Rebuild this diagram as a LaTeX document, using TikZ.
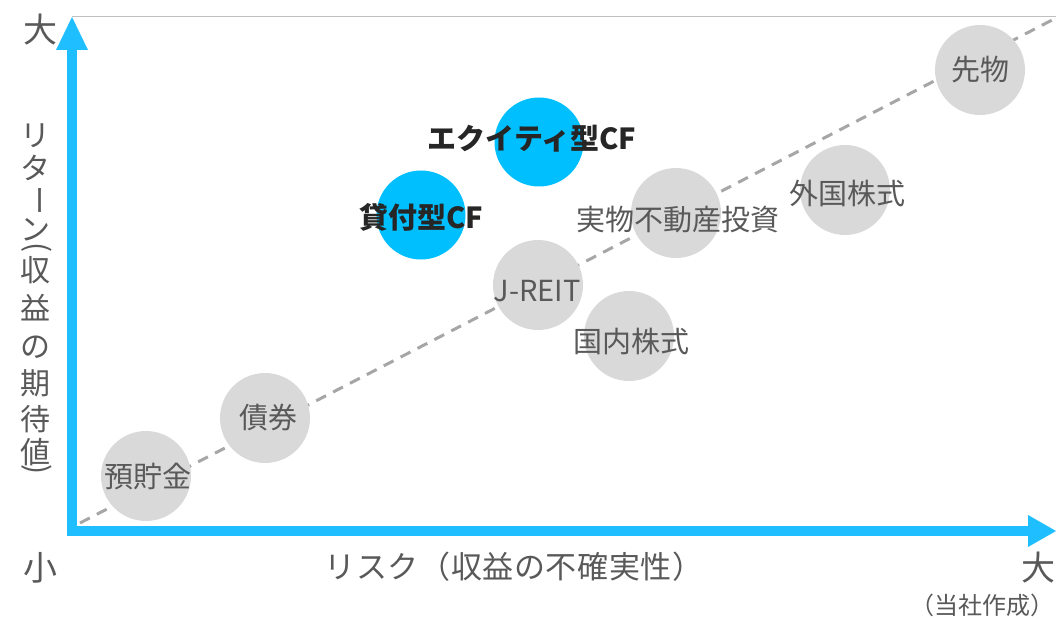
\documentclass[tikz,border=0pt]{standalone}
\usepackage{fontspec}
\usepackage{graphicx}
\setmainfont{Noto Sans CJK JP}
\usetikzlibrary{calc}
\definecolor{axisblue}{HTML}{1FBFFF}
\definecolor{cfblue}{HTML}{00BFFF}
\definecolor{circgrey}{HTML}{D9D9D9}
\definecolor{txtgrey}{HTML}{595959}
\definecolor{dashgrey}{HTML}{A6A6A6}
\definecolor{topgrey}{HTML}{BFBFBF}
\definecolor{cftext}{HTML}{262626}
\tikzset{
  gcirc/.style={circle, fill=circgrey, minimum size=90pt, inner sep=0pt},
  bcirc/.style={circle, fill=cfblue, minimum size=89pt, inner sep=0pt},
  lbl/.style={text=txtgrey, inner sep=0pt, font=\fontsize{29}{31}\selectfont},
  cflbl/.style={text=cftext, inner sep=0pt, font=\fontsize{29}{31}\selectfont\bfseries},
  axlbl/.style={text=txtgrey, inner sep=0pt, font=\fontsize{30}{32}\selectfont},
  xtlbl/.style={text=txtgrey, inner sep=0pt, font=\fontsize{31}{33}\selectfont\addfontfeatures{LetterSpace=2}},
  endlbl/.style={text=txtgrey, inner sep=0pt, font=\fontsize{34}{36}\selectfont},
  notelbl/.style={text=txtgrey, inner sep=0pt, font=\fontsize{24}{26}\selectfont},
  axisline/.style={draw=axisblue, line width=10pt, line join=miter},
  trend/.style={draw=dashgrey, line width=3pt, dash pattern=on 11pt off 8pt},
}
\begin{document}
\begin{tikzpicture}[x=1pt,y=-1pt]
\useasboundingbox (0,0) rectangle (1056,620);
% frame top line
\coordinate (tl) at (72,17);
\coordinate (tr) at (1056,17);
\draw[topgrey, line width=1pt] (tl) -- (tr);
% trend line
\coordinate (ts) at (80,523);
\coordinate (te) at (1056,18);
\draw[trend] (ts) -- (te);
% axes
\coordinate (ybase) at (72,48);
\coordinate (origin) at (72,531);
\coordinate (xbase) at (1028,531);
\draw[axisline] (ybase) -- (origin) -- (xbase);
\coordinate (ytip) at (72,17);
\coordinate (xtip) at (1056,531);
\fill[axisblue] (ytip) -- ($(ytip)+(-16,33)$) -- ($(ytip)+(16,33)$) -- cycle;
\fill[axisblue] (xtip) -- ($(xtip)+(-28,-16)$) -- ($(xtip)+(-28,16)$) -- cycle;
% circles
\node[gcirc] (dep) at (146,476) {};
\node[gcirc] (bond) at (265,418) {};
\node[gcirc] (fut) at (980,70) {};
\node[gcirc] (fstock) at (845,190) {};
\node[gcirc] (real) at (676,213) {};
\node[gcirc] (reit) at (538,285) {};
\node[gcirc] (dstock) at (629,336) {};
\node[bcirc] (ecf) at (539,142) {};
\node[bcirc] (lcf) at (421,215) {};
% labels
\node[lbl] (tdep) at ($(dep)+(2,1)$) {預貯金};
\node[lbl] (tbond) at ($(bond)+(3,0)$) {債券};
\node[lbl] (tfut) at (fut) {先物};
\node[lbl] (tfstock) at ($(fstock)+(2,3)$) {外国株式};
\node[lbl] (treal) at ($(real)+(2,7)$) {実物不動産投資};
\node[lbl] (treit) at ($(reit)+(-1,6)$) {J-REIT};
\node[lbl] (tdstock) at ($(dstock)+(2,6)$) {国内株式};
\node[cflbl] (tecf) at ($(ecf)+(-7,-3)$) {エクイティ型CF};
\node[cflbl] (tlcf) at ($(lcf)+(0,2)$) {貸付型CF};
% axis end labels
\node[endlbl] (ybig) at (40,30) {大};
\node[endlbl] (small) at (40,568) {小};
\node[endlbl] (xbig) at (1038,568) {大};
\node[notelbl] (note) at (982,605) {（当社作成）};
% x axis title
\node[xtlbl] (xtitle) at (514,567) {リスク（収益の不確実性）};
% y axis title (vertical)
\node[axlbl] (v1) at (35,136) {リ};
\node[axlbl] (v2) at (35,168) {タ};
\node[axlbl] (v3) at (35,201) {\rotatebox{-90}{ー}};
\node[axlbl] (v4) at (35,230) {ン};
\node[axlbl] (v5) at (37,248) {\rotatebox{-90}{(}};
\node[axlbl] (v6) at (35,270) {収};
\node[axlbl] (v7) at (35,308) {益};
\node[axlbl] (v8) at (35,347) {の};
\node[axlbl] (v9) at (35,383) {期};
\node[axlbl] (v10) at (35,419) {待};
\node[axlbl] (v11) at (35,452) {値};
\node[axlbl] (v12) at (37,470) {\rotatebox{-90}{)}};
\end{tikzpicture}
\end{document}
